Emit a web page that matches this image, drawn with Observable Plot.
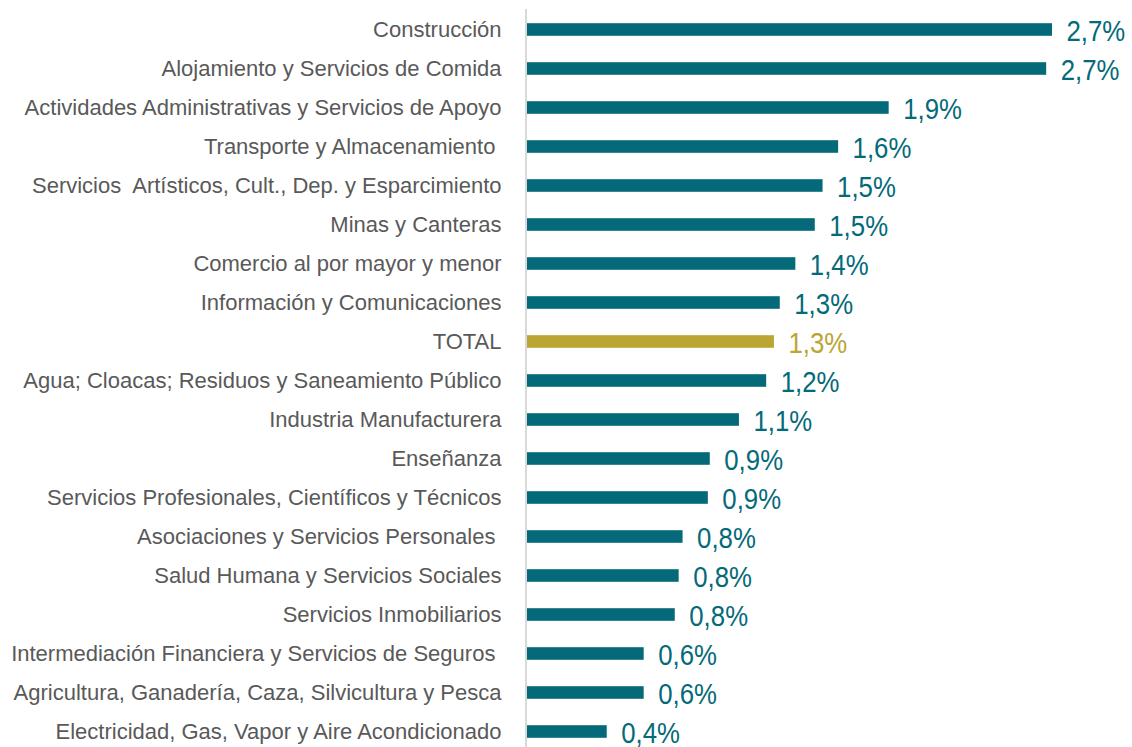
<!DOCTYPE html>
<html>
<head>
<meta charset="utf-8">
<script src="https://cdn.jsdelivr.net/npm/d3@7"></script>
<script src="https://cdn.jsdelivr.net/npm/@observablehq/plot@0.6"></script>
<style>
  html, body { margin: 0; padding: 0; background: #ffffff; }
  #chart svg text { white-space: pre; }
</style>
</head>
<body>
<div id="chart"></div>
<script>
const categories = [
  "Construcción",
  "Alojamiento y Servicios de Comida",
  "Actividades Administrativas y Servicios de Apoyo",
  "Transporte y Almacenamiento ",
  "Servicios  Artísticos, Cult., Dep. y Esparcimiento",
  "Minas y Canteras",
  "Comercio al por mayor y menor",
  "Información y Comunicaciones",
  "TOTAL",
  "Agua; Cloacas; Residuos y Saneamiento Público",
  "Industria Manufacturera",
  "Enseñanza",
  "Servicios Profesionales, Científicos y Técnicos",
  "Asociaciones y Servicios Personales ",
  "Salud Humana y Servicios Sociales",
  "Servicios Inmobiliarios",
  "Intermediación Financiera y Servicios de Seguros ",
  "Agricultura, Ganadería, Caza, Silvicultura y Pesca",
  "Electricidad, Gas, Vapor y Aire Acondicionado"
];
const values = [2.70, 2.67, 1.86, 1.60, 1.52, 1.48, 1.38, 1.30, 1.27, 1.23, 1.09, 0.94, 0.93, 0.80, 0.78, 0.76, 0.60, 0.60, 0.41];
const highlight = "TOTAL";

const teal = "#046a79";
const gold = "#bba533";

const data = categories.map((c, i) => ({
  cat: c,
  value: values[i],
  label: values[i].toFixed(1).replace(".", ",") + "%",
  color: c === highlight ? gold : teal
}));

const chart = Plot.plot({
  width: 1132,
  height: 747,
  marginLeft: 527,
  marginRight: 80,
  marginTop: 9,
  marginBottom: 0,
  x: { domain: [0, 2.7], axis: null },
  y: { domain: categories, range: [8.45, 751.6], padding: 0 },
  style: { background: "#ffffff", overflow: "visible" },
  marks: [
    Plot.ruleX([0], { stroke: "#d9d9d9", strokeWidth: 2, dx: -1.5 }),
    Plot.barX(data, {
      x: "value", y: "cat", fill: "color",
      insetTop: 13.2, insetBottom: 13.2
    }),
    Plot.text(data, {
      x: "value", y: "cat", text: "label", fill: "color",
      textAnchor: "start", dx: 14, dy: 1,
      fontSize: 30, fontFamily: "'Liberation Sans', Arial, sans-serif"
    }),
    Plot.axisY({
      tickSize: 0, tickPadding: 26, label: null,
      fontSize: 22, fontFamily: "'Liberation Sans', Arial, sans-serif",
      fill: "#595959"
    })
  ]
});
document.getElementById("chart").appendChild(chart);

// condense the value labels horizontally (narrow-font look)
d3.select(chart).selectAll('g[aria-label="text"] text').each(function () {
  const t = d3.select(this);
  const tr = t.attr("transform");
  if (tr) {
    t.attr("transform", tr + " scale(0.86,1)");
  } else {
    const x = +t.attr("x") || 0;
    t.attr("transform", `translate(${x},0) scale(0.86,1) translate(${-x},0)`);
  }
});
</script>
</body>
</html>
